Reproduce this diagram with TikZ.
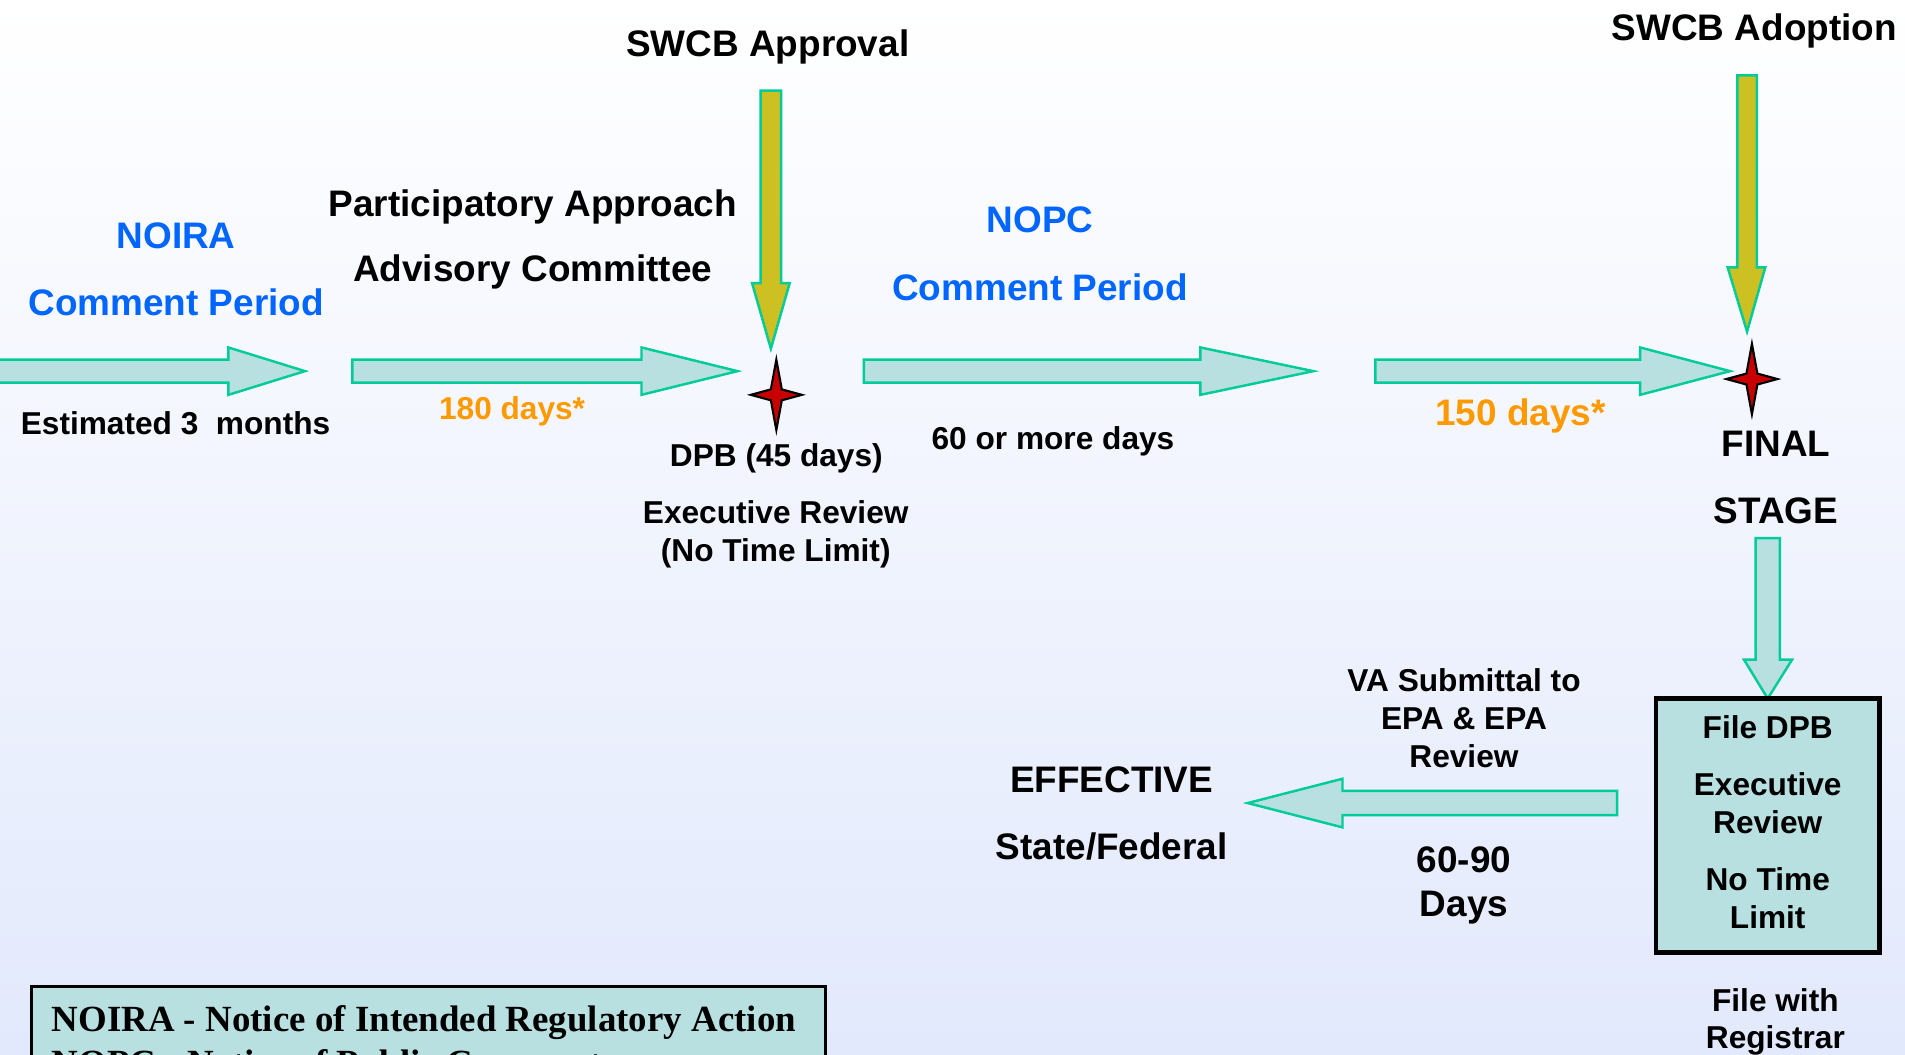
\documentclass[tikz,border=0pt]{standalone}
\usepackage{fontspec}
\setmainfont{Liberation Sans}
\newfontfamily\legendfont{Liberation Serif}
\definecolor{mybg}{RGB}{226,233,252}
\definecolor{myteal}{RGB}{185,224,225}
\definecolor{myedge}{RGB}{0,204,153}
\definecolor{myyellow}{RGB}{204,192,34}
\definecolor{myblue}{RGB}{0,102,255}
\definecolor{myorange}{RGB}{255,153,0}
\definecolor{myred}{RGB}{200,0,0}
\tikzstyle{heading} = [inner sep=0, anchor=base, font=\fontsize{10.5}{12.6}\selectfont]
\tikzstyle{remark} = [inner sep=0, anchor=base, font=\fontsize{9}{10.8}\selectfont]
\tikzstyle{period} = [heading, text=myblue]
\tikzstyle{daycount} = [remark, text=myorange]
\tikzstyle{flowarrow} = [draw=myedge, fill=myteal, line width=0.7]
\tikzstyle{approval} = [draw=myedge, fill=myyellow, line width=0.7]
\tikzstyle{redstar} = [draw=black, fill=myred, line width=0.6, line join=miter]
\tikzstyle{filebox} = [draw=black, fill=myteal, line width=1.2, inner sep=0,
    minimum width=2.236cm, minimum height=2.539cm, font=\fontsize{9}{10.8}\selectfont]
\tikzstyle{legendbox} = [draw=black, fill=myteal, line width=0.8]
\tikzstyle{legendtext} = [inner sep=0, anchor=base west,
    font=\legendfont\bfseries\fontsize{10.5}{12.4}\selectfont]
\begin{document}
\begin{tikzpicture}[x=0.01215cm, y=-0.01215cm]

\useasboundingbox (0,0) rectangle (1568,868);
\shade[top color=white, bottom color=mybg] (0,0) rectangle (1568,868);
\clip (0,0) rectangle (1568,868);

%%% board decisions
\node[heading] (approvaltext) at (632,46.6) {\textbf{SWCB Approval}};
\node[heading] (adoptiontext) at (1444,33.5) {\textbf{SWCB Adoption}};

\draw[approval] (626,74.6) -- (626,233) -- (619,233) -- (634.5,287) -- (650,233) -- (643,233) -- (643,74.6) -- cycle;
\draw[approval] (1430,62) -- (1430,220) -- (1422,220) -- (1438,273) -- (1453,220) -- (1446,220) -- (1446,62) -- cycle;

%%% stages
\node[period] (noira) at (145,204.5) {\textbf{\begin{tabular}[t]{c} NOIRA \\[6.4pt] Comment Period \end{tabular}}};
\node[heading] (advisory) at (438.5,178.4) {\textbf{\begin{tabular}[t]{c} Participatory Approach \\[5.9pt] Advisory Committee \end{tabular}}};
\node[period] (nopc) at (856,191.5) {\textbf{\begin{tabular}[t]{c} NOPC \\[6.6pt] Comment Period \end{tabular}}};

\draw[flowarrow] (-2,296) -- (188,296) -- (188,286) -- (251,305.5) -- (188,325) -- (188,315) -- (-2,315) -- cycle;
\draw[flowarrow] (290,296) -- (528,296) -- (528,286) -- (607,305.5) -- (528,325) -- (528,315) -- (290,315) -- cycle;
\draw[flowarrow] (711,296) -- (988,296) -- (988,286) -- (1081,305.5) -- (988,325) -- (988,315) -- (711,315) -- cycle;
\draw[flowarrow] (1132,296) -- (1350,296) -- (1350,286) -- (1424,305.5) -- (1350,325) -- (1350,315) -- (1132,315) -- cycle;

\coordinate (star1) at (639,325);
\coordinate (star2) at (1442,312);
\draw[redstar, shift={(star1)}] (0,-29) -- (4.5,-4.5) -- (21,0) -- (4.5,4.5) -- (0,29) -- (-4.5,4.5) -- (-21,0) -- (-4.5,-4.5) -- cycle;
\draw[redstar, shift={(star2)}] (0,-29) -- (4.5,-4.5) -- (21,0) -- (4.5,4.5) -- (0,29) -- (-4.5,4.5) -- (-21,0) -- (-4.5,-4.5) -- cycle;

\node[remark] (months) at (144.5,358) {\textbf{Estimated 3\ \ months}};
\node[daycount] (days180) at (421.5,345) {\textbf{180 days*}};
\node[remark] (dpb) at (639,384) {\textbf{DPB (45 days)}};
\node[remark] (review) at (638.5,431.3) {\textbf{\begin{tabular}[t]{c} Executive Review \\[-0.1pt] (No Time Limit) \end{tabular}}};
\node[remark] (days60) at (866.7,370) {\textbf{60 or more days}};
\node[daycount, font=\fontsize{10.5}{12.6}\selectfont] (days150) at (1251.5,350) {\textbf{150 days*}};
\node[heading] (final) at (1461.7,375.9) {\textbf{\begin{tabular}[t]{c} FINAL \\[6.3pt] STAGE \end{tabular}}};

%%% filing
\draw[flowarrow] (1445,443) -- (1445,543) -- (1435.5,543) -- (1455,575) -- (1475,543) -- (1465,543) -- (1465,443) -- cycle;
\node[filebox] (dpbbox) at (1455,679.5) {\textbf{\begin{tabular}{c} File DPB \\[5.4pt] Executive \\ Review \\[5.4pt] No Time \\ Limit \end{tabular}}};
\node[remark] (registrar) at (1461.3,832.7) {\textbf{\begin{tabular}[t]{c} File with \\[-0.4pt] Registrar \end{tabular}}};

\draw[flowarrow] (1331,651) -- (1105,651) -- (1105,641) -- (1027,661) -- (1105,681) -- (1105,671) -- (1331,671) -- cycle;
\node[remark] (submittal) at (1205,569) {\textbf{\begin{tabular}[t]{c} VA Submittal to \\ EPA \& EPA \\ Review \end{tabular}}};
\node[heading] (days6090) at (1205,718.3) {\textbf{\begin{tabular}[t]{c} 60-90 \\ Days \end{tabular}}};
\node[heading] (effective) at (915,652.4) {\textbf{\begin{tabular}[t]{c} EFFECTIVE \\[6.4pt] State/Federal \end{tabular}}};

%%% legend
\draw[legendbox] (26,812) rectangle (679.5,930);
\node[legendtext] (noiradef) at (42,849) {NOIRA - Notice of Intended Regulatory Action};
\node[legendtext] (nopcdef) at (42,885) {NOPC - Notice of Public Comment};

\end{tikzpicture}
\end{document}
